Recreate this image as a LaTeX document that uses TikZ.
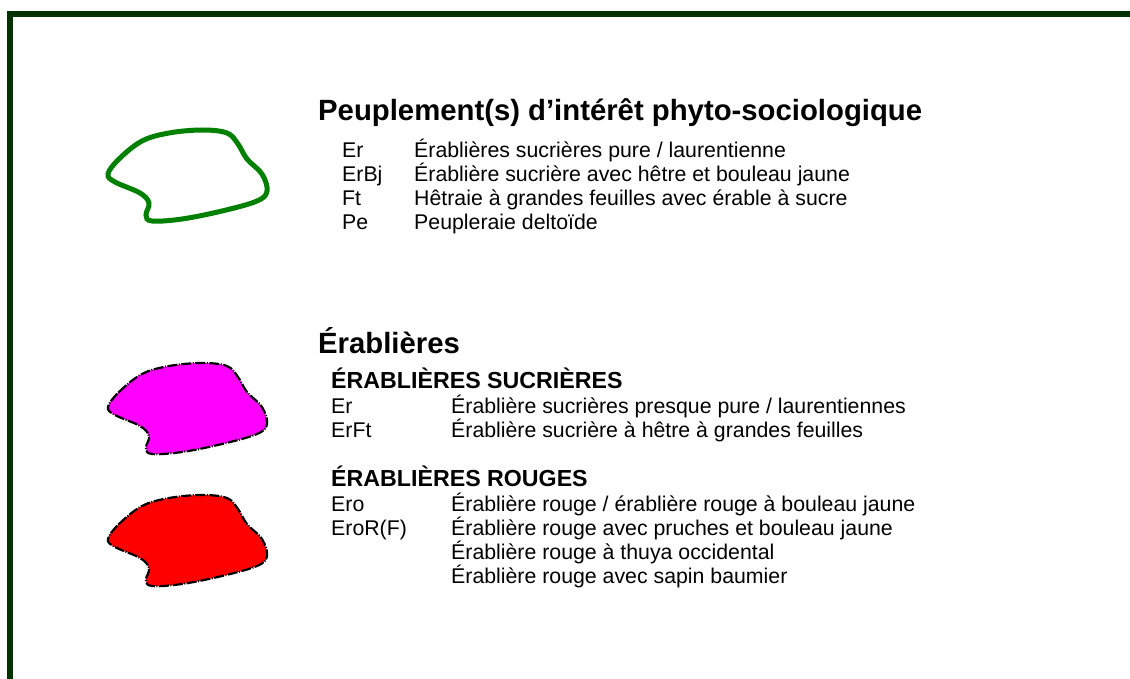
\documentclass[tikz,border=0pt]{standalone}
\usepackage{fontspec}
\setmainfont{Liberation Sans}
\usetikzlibrary{positioning}
\definecolor{frameGreen}{RGB}{0,51,0}
\definecolor{standGreen}{RGB}{0,128,0}
\definecolor{sugarMagenta}{RGB}{255,0,255}
\definecolor{redMaple}{RGB}{255,0,0}

\begin{document}
\begin{tikzpicture}
[   x=1pt, y=-1pt,
    head/.style={anchor=base west, inner sep=0pt, font=\fontsize{29.3}{34}\selectfont\bfseries},
    subhead/.style={anchor=base west, inner sep=0pt, font=\fontsize{23.2}{27}\selectfont\bfseries},
    entry/.style={anchor=base west, inner sep=0pt, font=\fontsize{21.3}{25}\selectfont},
    greenline/.style={draw=standGreen, line width=5pt},
    dashdot/.style={draw=black, line width=2.2pt, dash pattern=on 10pt off 1.5pt on 1pt off 1.5pt},
    magentafill/.style={dashdot, fill=sugarMagenta},
    redfill/.style={dashdot, fill=redMaple}, ]
    \useasboundingbox (0,0) rectangle (1130,679);

    % frame
    \draw[frameGreen, line width=6pt] (10,679) -- (10,14) -- (1130,14);

    % legend symbols
    \foreach \y/\sty in {129/greenline, 362/magentafill, 494/redfill}
    {
        \draw[\sty, shift={(107,\y)}] plot[smooth cycle, tension=0.6] coordinates
        {(1,45) (12,30) (35,12) (62,4) (95,1) (120,4) (131,15) (140,30) (155,45) (160,62)
         (150,72) (115,82) (75,90) (45,92) (39,86) (42,74) (33,64) (8,53)};
    }

    % peuplements
    \node[head] (t-1) at (318,121) {Peuplement(s) d’intérêt phyto-sociologique};
    \foreach \code/\desc [count=\i] in {Er/{Érablières sucrières pure / laurentienne},
        ErBj/{Érablière sucrière avec hêtre et bouleau jaune},
        Ft/{Hêtraie à grandes feuilles avec érable à sucre},
        Pe/{Peupleraie deltoïde}}
    {
        \node[entry] (pc-\i) at (342,{134+24*\i}) {\code};
        \node[entry] (pd-\i) at (414,{134+24*\i}) {\desc};
    }

    % erablieres
    \node[head] (t-2) at (318,353) {Érablières};
    \node[subhead] (s-1) at (331,388) {ÉRABLIÈRES SUCRIÈRES};
    \foreach \code/\desc [count=\i] in {Er/{Érablière sucrières presque pure / laurentiennes},
        ErFt/{Érablière sucrière à hêtre à grandes feuilles}}
    {
        \node[entry] (sc-\i) at (331,{389+24*\i}) {\code};
        \node[entry] (sd-\i) at (451,{389+24*\i}) {\desc};
    }

    \node[subhead] (s-2) at (331,486) {ÉRABLIÈRES ROUGES};
    \foreach \code/\desc [count=\i] in {Ero/{Érablière rouge / érablière rouge à bouleau jaune},
        EroR(F)/{Érablière rouge avec pruches et bouleau jaune},
        {}/{Érablière rouge à thuya occidental},
        {}/{Érablière rouge avec sapin baumier}}
    {
        \node[entry] (rc-\i) at (331,{487+24*\i}) {\code};
        \node[entry] (rd-\i) at (451,{487+24*\i}) {\desc};
    }

\end{tikzpicture}
\end{document}
